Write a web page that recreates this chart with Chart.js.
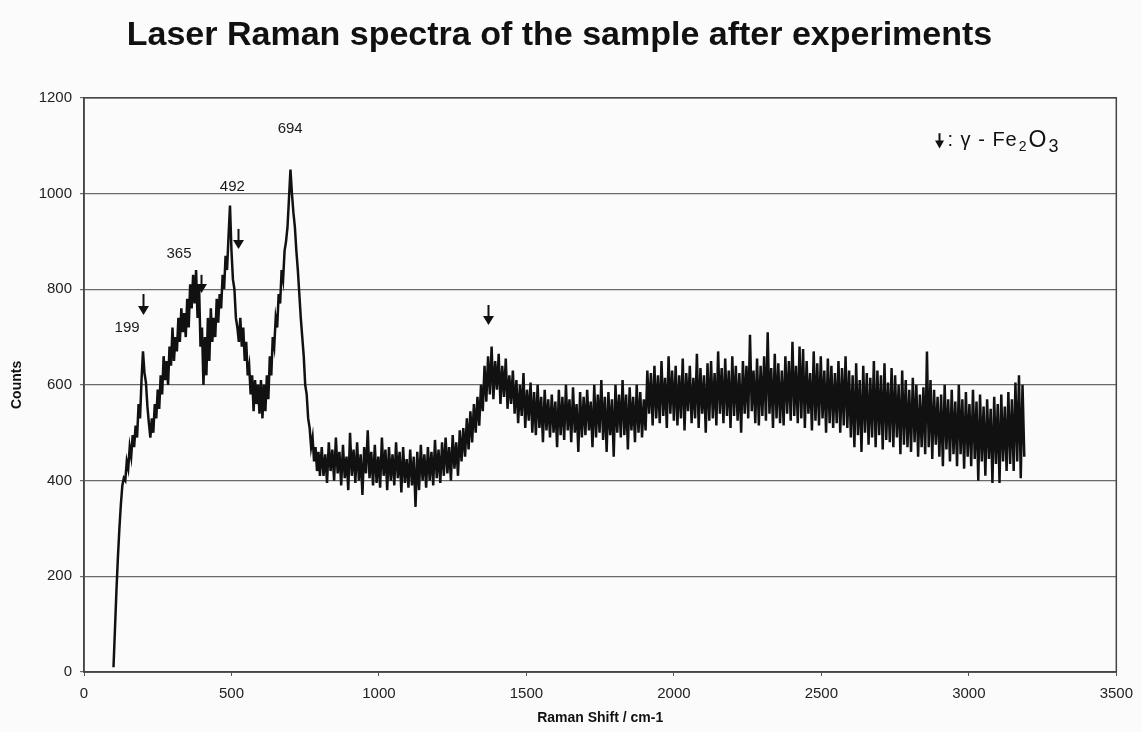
<!DOCTYPE html>
<html><head><meta charset="utf-8">
<script src="https://cdn.jsdelivr.net/npm/chart.js@4.4.1/dist/chart.umd.min.js"></script>
<style>html,body{margin:0;padding:0;background:#fbfbfb;}#wrap{width:1142px;height:732px;}</style>
</head><body><div id="wrap"><canvas id="c" width="1142" height="732"></canvas></div>
<script>
const chartTitle = 'Laser Raman spectra of the sample after experiments';
const xAxisTitle = 'Raman Shift / cm-1';
const yAxisTitle = 'Counts';
const xTickStep = 500;
const yTickStep = 200;

const ramanShift = [
100,105,110,115,120,125,130,135,140,145,
150,155,160,165,170,175,180,185,190,195,
200,205,210,215,220,225,230,235,240,245,
250,255,260,265,270,275,280,285,290,295,
300,305,310,315,320,325,330,335,340,345,
350,355,360,365,370,375,380,385,390,395,
400,405,410,415,420,425,430,435,440,445,
450,455,460,465,470,475,480,485,490,495,
500,505,510,515,520,525,530,535,540,545,
550,555,560,565,570,575,580,585,590,595,
600,605,610,615,620,625,630,635,640,645,
650,655,660,665,670,675,680,685,690,695,
700,705,710,715,720,725,730,735,740,745,
750,755,760,765,770,775,780,785,790,795,
800,
806,812,818,824,830,836,842,848,854,860,
866,872,878,884,890,896,902,908,914,920,
926,932,938,944,950,956,962,968,974,980,
986,992,998,1004,1010,1016,1022,1028,1034,1040,
1046,1052,1058,1064,1070,1076,1082,1088,1094,1100,
1106,1112,1118,1124,1130,1136,1142,1148,1154,1160,
1166,1172,1178,1184,1190,1196,1202,1208,1214,1220,
1226,1232,1238,1244,1250,1256,1262,1268,1274,1280,
1286,1292,1298,1304,1310,1316,1322,1328,1334,1340,
1346,1352,1358,1364,1370,1376,1382,1388,1394,1400,
1406,1412,1418,1424,1430,1436,1442,1448,1454,1460,
1466,1472,1478,1484,1490,1496,1502,1508,1514,1520,
1526,1532,1538,1544,1550,1556,1562,1568,1574,1580,
1586,1592,1598,1604,1610,1616,1622,1628,1634,1640,
1646,1652,1658,1664,1670,1676,1682,1688,1694,1700,
1706,1712,1718,1724,1730,1736,1742,1748,1754,1760,
1766,1772,1778,1784,1790,1796,1802,1808,1814,1820,
1826,1832,1838,1844,1850,1856,1862,1868,1874,1880,
1886,1892,1898,1904,1910,1916,1922,1928,1934,1940,
1946,1952,1958,1964,1970,1976,1982,1988,1994,2000,
2006,2012,2018,2024,2030,2036,2042,2048,2054,2060,
2066,2072,2078,2084,2090,2096,2102,2108,2114,2120,
2126,2132,2138,2144,2150,2156,2162,2168,2174,2180,
2186,2192,2198,2204,2210,2216,2222,2228,2234,2240,
2246,2252,2258,2264,2270,2276,2282,2288,2294,2300,
2306,2312,2318,2324,2330,2336,2342,2348,2354,2360,
2366,2372,2378,2384,2390,2396,2402,2408,2414,2420,
2426,2432,2438,2444,2450,2456,2462,2468,2474,2480,
2486,2492,2498,2504,2510,2516,2522,2528,2534,2540,
2546,2552,2558,2564,2570,2576,2582,2588,2594,2600,
2606,2612,2618,2624,2630,2636,2642,2648,2654,2660,
2666,2672,2678,2684,2690,2696,2702,2708,2714,2720,
2726,2732,2738,2744,2750,2756,2762,2768,2774,2780,
2786,2792,2798,2804,2810,2816,2822,2828,2834,2840,
2846,2852,2858,2864,2870,2876,2882,2888,2894,2900,
2906,2912,2918,2924,2930,2936,2942,2948,2954,2960,
2966,2972,2978,2984,2990,2996,3002,3008,3014,3020,
3026,3032,3038,3044,3050,3056,3062,3068,3074,3080,
3086,3092,3098,3104,3110,3116,3122,3128,3134,3140,
3146,3152,3158,3164,3170,3176,3182,3188
];

const counts = [
10,90,170,240,300,350,390,405,400,440,
425,470,450,495,470,515,490,560,530,610,
670,625,605,555,520,490,530,500,560,530,
590,550,620,580,660,610,650,600,680,640,
720,650,700,670,740,690,760,710,750,700,
780,720,810,760,830,770,840,740,810,680,
720,600,700,620,740,650,760,690,740,700,
780,730,790,760,830,800,870,840,910,975,
880,820,800,740,720,690,740,680,720,650,
690,620,640,580,620,545,610,560,600,540,
610,530,600,545,620,570,660,620,700,680,
740,720,790,770,840,820,880,900,930,990,
1050,1000,960,930,880,840,790,740,700,660,
600,580,530,510,470,490,440,470,420,460,
410,
470,410,455,395,480,420,465,400,490,415,
460,390,475,405,450,380,500,410,465,395,
480,400,455,370,470,415,505,405,460,390,
475,395,450,385,490,410,465,380,470,400,
455,390,480,405,460,375,470,395,445,385,
465,390,450,345,460,380,475,400,455,385,
470,400,460,390,485,405,465,395,480,410,
490,415,470,400,495,425,480,410,505,440,
510,450,530,465,545,480,560,500,575,515,
600,545,640,565,660,580,680,570,650,590,
665,560,640,575,655,550,620,560,630,540,
610,520,600,535,625,510,590,525,605,500,
585,495,600,510,575,480,590,505,570,490,
580,500,565,470,590,495,575,485,600,505,
570,480,595,500,560,460,585,490,575,495,
590,505,565,470,600,490,580,500,610,485,
575,460,585,495,570,450,600,500,580,490,
610,495,580,465,595,505,575,480,600,500,
585,490,570,505,630,540,625,515,640,530,
620,520,650,535,615,510,660,540,630,525,
640,515,620,530,655,505,625,545,640,520,
615,530,665,510,635,540,620,500,645,525,
650,530,625,515,670,540,635,520,655,535,
630,510,660,535,640,525,625,500,650,540,
640,530,705,545,630,520,655,515,640,535,
660,525,710,540,635,510,665,530,645,520,
630,515,660,540,650,525,690,535,640,520,
680,530,675,510,650,540,625,505,670,525,
645,515,660,530,630,500,655,520,640,510,
625,520,650,500,635,515,660,510,630,490,
620,470,645,495,610,460,640,500,625,475,
615,490,650,470,630,495,620,465,645,485,
605,480,635,470,620,490,600,455,630,475,
610,470,590,460,615,480,600,450,580,470,
595,455,670,470,610,445,590,475,575,450,
580,430,600,465,570,440,590,455,565,430,
600,455,570,425,585,450,560,430,590,445,
565,400,580,440,555,410,570,445,550,395,
575,435,560,395,580,440,555,420,585,435,
570,420,605,440,620,405,600,450
];

// peak annotations (text) and gamma-Fe2O3 markers (arrows), in data units
const peakLabels = ['199', '365', '492', '694'];
const peakLabelShift = [146, 322, 503, 699];
const peakLabelCount = [719, 874, 1014, 1135];
const arrowShift = [199, 395, 523, 1369];
const arrowTop = [790, 830, 926, 767];
const arrowBottom = [746, 792, 884, 725];
const legendText = [': γ - Fe', '2', 'O', '3'];
const legendShift = 2900;
const legendTopCount = 1126;
const legendBottomCount = 1094;

const FONT = '"Liberation Sans", Arial, Helvetica, sans-serif';

const points = ramanShift.map((x, i) => ({x: x, y: counts[i]}));

function drawArrow(ctx, x, yTop, yBot, headW, headH, lw) {
  ctx.save();
  ctx.strokeStyle = '#111'; ctx.fillStyle = '#111'; ctx.lineWidth = lw;
  ctx.beginPath(); ctx.moveTo(x, yTop); ctx.lineTo(x, yBot - headH + 1); ctx.stroke();
  ctx.beginPath();
  ctx.moveTo(x - headW / 2, yBot - headH);
  ctx.lineTo(x + headW / 2, yBot - headH);
  ctx.lineTo(x, yBot);
  ctx.closePath(); ctx.fill();
  ctx.restore();
}

const annotations = {
  id: 'annotations',
  afterDatasetsDraw(chart) {
    const {ctx, chartArea, scales: {x, y}} = chart;
    ctx.save();
    ctx.strokeStyle = '#444'; ctx.lineWidth = 1.5;
    ctx.strokeRect(chartArea.left, chartArea.top, chartArea.right - chartArea.left, chartArea.bottom - chartArea.top);
    ctx.fillStyle = '#1a1a1a';
    ctx.font = '15px ' + FONT;
    ctx.textAlign = 'center'; ctx.textBaseline = 'middle';
    peakLabels.forEach((t, i) => {
      ctx.fillText(t, x.getPixelForValue(peakLabelShift[i]), y.getPixelForValue(peakLabelCount[i]));
    });
    arrowShift.forEach((s, i) => {
      drawArrow(ctx, Math.round(x.getPixelForValue(s)) + 0.5, y.getPixelForValue(arrowTop[i]), y.getPixelForValue(arrowBottom[i]), 11, 9, 2);
    });
    const lx = Math.round(x.getPixelForValue(legendShift)) + 0.5;
    const lt = y.getPixelForValue(legendTopCount), lb = y.getPixelForValue(legendBottomCount);
    drawArrow(ctx, lx, lt, lb, 9, 8, 2);
    const ly = (lt + lb) / 2;
    let cx = lx + 8;
    ctx.textAlign = 'left'; ctx.textBaseline = 'middle'; ctx.fillStyle = '#111';
    try { ctx.letterSpacing = '1px'; } catch (e) {}
    const fonts = ['20px ' + FONT, '14px ' + FONT, '23px ' + FONT, '18px ' + FONT];
    const dy = [0, 6, 0, 6];
    legendText.forEach((t, i) => {
      ctx.font = fonts[i];
      ctx.fillText(t, cx, ly + dy[i]);
      cx += ctx.measureText(t).width + 1;
    });
    ctx.restore();
  }
};

new Chart(document.getElementById('c'), {
  type: 'line',
  data: {
    datasets: [{
      data: points,
      borderColor: '#111',
      borderWidth: 2.5,
      pointRadius: 0,
      tension: 0,
      fill: false
    }]
  },
  options: {
    responsive: false,
    animation: false,
    devicePixelRatio: 1,
    layout: {padding: {left: 0, right: 23, top: 0, bottom: 0}},
    plugins: {
      legend: {display: false},
      tooltip: {enabled: false},
      title: {
        display: true, text: chartTitle, color: '#111',
        font: {family: FONT, size: 34, weight: 'bold'},
        padding: {top: 15, bottom: 42}
      }
    },
    scales: {
      x: {
        type: 'linear', min: 0, max: 3500,
        ticks: {stepSize: xTickStep, color: '#222', font: {family: FONT, size: 15}, padding: 9, maxRotation: 0, autoSkip: false,
                callback: v => String(v)},
        grid: {drawOnChartArea: false, drawTicks: true, tickLength: 4, color: '#555'},
        border: {display: true, color: '#444', width: 1.5},
        title: {display: true, text: xAxisTitle, color: '#111', font: {family: FONT, size: 14, weight: 'bold'}, padding: {top: 0, bottom: 5}},
        afterFit(s) { s.height = 60; }
      },
      y: {
        type: 'linear', min: 0, max: 1200,
        ticks: {stepSize: yTickStep, color: '#222', font: {family: FONT, size: 15}, padding: 8,
                callback: v => String(v)},
        grid: {color: '#6a6a6a', lineWidth: 1.2, tickLength: 4},
        border: {display: true, color: '#444', width: 1.5},
        title: {display: true, text: yAxisTitle, color: '#111', font: {family: FONT, size: 14, weight: 'bold'}, padding: {top: 9, bottom: 0}},
        afterFit(s) { s.width = 84; }
      }
    }
  },
  plugins: [annotations]
});
</script>
</body></html>
